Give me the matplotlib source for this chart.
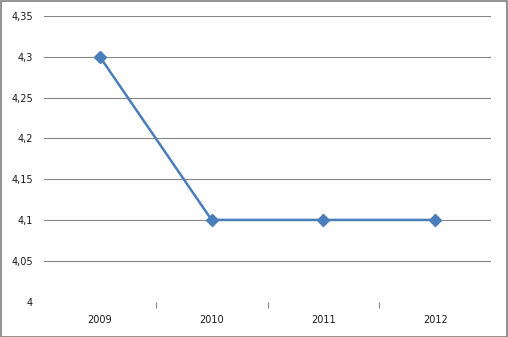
import matplotlib
matplotlib.use("Agg")
import matplotlib.pyplot as plt
from matplotlib.patches import Rectangle

years = ["2009", "2010", "2011", "2012"]
values = [4.3, 4.1, 4.1, 4.1]
y_ticks = [4.0, 4.05, 4.1, 4.15, 4.2, 4.25, 4.3, 4.35]
y_tick_labels = ["4", "4,05", "4,1", "4,15", "4,2", "4,25", "4,3", "4,35"]

line_color = "#4A7EBB"
grid_color = "#868686"

fig = plt.figure(figsize=(5.08, 3.37), dpi=100)
ax = fig.add_axes([44/508, 35.5/337, 447/508, 285.5/337])

x = list(range(len(years)))
ax.plot(x, values, color=line_color, lw=1.8, marker="D", markersize=6.5,
        markerfacecolor=line_color, markeredgecolor=line_color, zorder=3)

ax.set_xlim(-0.5, len(years) - 0.5)
ax.set_ylim(y_ticks[0], y_ticks[-1])
ax.set_yticks(y_ticks)
ax.set_yticklabels(y_tick_labels)
ax.grid(axis="y", color=grid_color, lw=0.8)
ax.yaxis.get_gridlines()[0].set_visible(False)
ax.tick_params(axis="y", length=0, pad=8, labelsize=7, labelcolor="#1a1a1a")

ax.set_xticks([i + 0.5 for i in range(len(years) - 1)])
ax.set_xticklabels([])
ax.tick_params(axis="x", which="major", direction="out", length=4, width=0.8, color=grid_color)
ax.set_xticks(x, minor=True)
ax.set_xticklabels(years, minor=True)
ax.tick_params(axis="x", which="minor", length=0, pad=10, labelsize=7, labelcolor="#1a1a1a")

for s in ax.spines.values():
    s.set_visible(False)

fig.patches.append(Rectangle((0.5/508, 0.5/337), 506.5/508, 335.5/337, transform=fig.transFigure,
                             fill=False, edgecolor="#808080", lw=1.2))

fig.savefig("out.png", dpi=100)
